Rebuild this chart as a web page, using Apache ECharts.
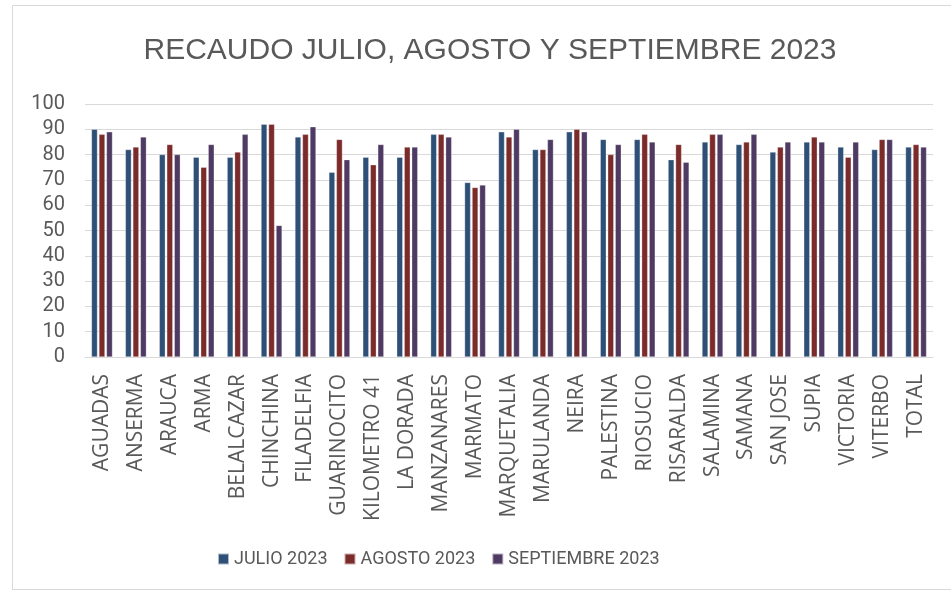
<!DOCTYPE html>
<html><head><meta charset="utf-8">
<script src="https://cdn.jsdelivr.net/npm/echarts@6/dist/echarts.min.js"></script>
<style>
html,body{margin:0;padding:0;background:#fff;}
#frame{position:absolute;left:12px;top:5px;width:945px;height:585px;border:1px solid #d9d9d9;box-sizing:border-box;}
#c{position:absolute;left:0;top:0;width:951px;height:594px;}
</style></head>
<body>
<div id="frame"></div>
<div id="c"></div>
<script>
const categories = ["AGUADAS","ANSERMA","ARAUCA","ARMA","BELALCAZAR","CHINCHINA","FILADELFIA","GUARINOCITO","KILOMETRO 41","LA DORADA","MANZANARES","MARMATO","MARQUETALIA","MARULANDA","NEIRA","PALESTINA","RIOSUCIO","RISARALDA","SALAMINA","SAMANA","SAN JOSE","SUPIA","VICTORIA","VITERBO","TOTAL"];
const julio = [90,82,80,79,79,92,87,73,79,79,88,69,89,82,89,86,86,78,85,84,81,85,83,82,83];
const agosto = [88,83,84,75,81,92,88,86,76,83,88,67,87,82,90,80,88,84,88,85,83,87,79,86,84];
const septiembre = [89,87,80,84,88,52,91,78,84,83,87,68,90,86,89,84,85,77,88,88,85,85,85,86,83];
const seriesNames = ["JULIO 2023","AGOSTO 2023","SEPTIEMBRE 2023"];
const colors = ["#2e5077","#7b2b2a","#4e3a62"];
const font = "Roboto, 'Liberation Sans', sans-serif";

const chart = echarts.init(document.getElementById('c'));
const mk = (name, data, color) => ({
  name, type: 'bar', data, barWidth: 6, barGap: '25%',
  itemStyle: { color, borderColor: 'rgba(255,255,255,0.6)', borderWidth: 0.5 }
});
chart.setOption({
  animation: false,
  title: { text: 'RECAUDO JULIO, AGOSTO Y SEPTIEMBRE 2023', left: 485, textAlign: 'center', top: 31,
    textStyle: { fontFamily: "'Liberation Sans', sans-serif", fontSize: 30, fontWeight: 'normal', color: '#595959' } },
  legend: { bottom: 21, left: 212, itemWidth: 11, itemHeight: 11, itemGap: 16, icon: 'rect',
    textStyle: { fontFamily: font, fontSize: 18, color: '#595959' }, data: seriesNames },
  grid: { left: 85, right: 18, top: 104, bottom: 237, containLabel: false },
  xAxis: { type: 'category', data: categories,
    axisLine: { lineStyle: { color: '#d9d9d9' } }, axisTick: { show: false },
    axisLabel: { rotate: 90, interval: 0, margin: 17, fontFamily: "'Open Sans', sans-serif", fontSize: 21, color: '#595959' } },
  yAxis: { type: 'value', min: 0, max: 100, interval: 10,
    axisLine: { show: false }, axisTick: { show: false },
    splitLine: { lineStyle: { color: '#d9d9d9', width: 1 } },
    axisLabel: { margin: 20, fontFamily: font, fontSize: 20, color: '#595959' } },
  series: [mk(seriesNames[0], julio, colors[0]), mk(seriesNames[1], agosto, colors[1]), mk(seriesNames[2], septiembre, colors[2])]
});
</script>
</body></html>
